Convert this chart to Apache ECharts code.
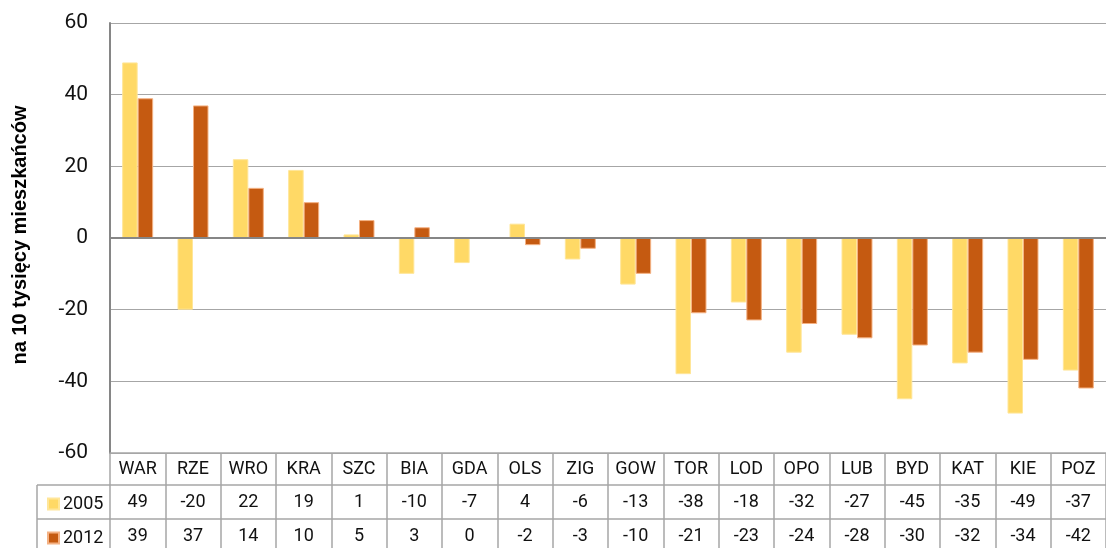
<!DOCTYPE html>
<html>
<head>
<meta charset="utf-8">
<script src="https://cdn.jsdelivr.net/npm/echarts@6/dist/echarts.min.js"></script>
<style>
  html, body { margin: 0; padding: 0; background: #fff; }
  #chart { width: 1106px; height: 548px; }
</style>
</head>
<body>
<div id="chart"></div>
<script>
// dane: saldo migracji na 10 tys. mieszkańców
const cities = ['WAR', 'RZE', 'WRO', 'KRA', 'SZC', 'BIA', 'GDA', 'OLS', 'ZIG', 'GOW',
                'TOR', 'LOD', 'OPO', 'LUB', 'BYD', 'KAT', 'KIE', 'POZ'];
const years = ['2005', '2012'];
const values2005 = [49, -20, 22, 19, 1, -10, -7, 4, -6, -13, -38, -18, -32, -27, -45, -35, -49, -37];
const values2012 = [39, 37, 14, 10, 5, 3, 0, -2, -3, -10, -21, -23, -24, -28, -30, -32, -34, -42];
const yMin = -60, yMax = 60, yStep = 20;

const gridColor = '#A6A6A6';
const font = 'Roboto, "Liberation Sans", sans-serif';

// jeden wiersz tabeli pod wykresem = osobna oś kategorii przesunięta w dół
const tableAxis = (offset, rowHeight, formatter, margin) => ({
    type: 'category',
    data: cities,
    position: 'bottom',
    offset: offset,
    axisLine: { show: true, onZero: false, lineStyle: { color: gridColor, width: 1.5 } },
    axisTick: { show: true, interval: 0, length: rowHeight, lineStyle: { color: gridColor, width: 1.5 } },
    axisLabel: {
        interval: 0, margin: margin, fontSize: 18, color: '#111', fontFamily: font,
        formatter: formatter
    },
    splitLine: { show: false }
});

// legenda w lewej kolumnie tabeli, jeden komponent na wiersz
const legendRow = (name, top) => ({
    data: [name],
    left: 42,
    top: top,
    itemWidth: 11,
    itemHeight: 11,
    itemGap: 0,
    icon: 'rect',
    textStyle: { fontSize: 18, color: '#111', fontFamily: font, padding: [0, 0, 0, -1] },
    selectedMode: false
});

const chart = echarts.init(document.getElementById('chart'), null, { renderer: 'canvas' });

const option = {
    animation: false,
    textStyle: { fontFamily: font },
    grid: { left: 110, top: 23, bottom: 95, right: -10, containLabel: false },
    legend: [legendRow(years[0], 490), legendRow(years[1], 524)],
    xAxis: [
        tableAxis(0, 32, (v) => v, 7),
        tableAxis(32, 34, (v, i) => String(values2005[i]), 8),
        tableAxis(66, 34, (v, i) => String(values2012[i]), 8)
    ],
    yAxis: {
        type: 'value',
        min: yMin,
        max: yMax,
        interval: yStep,
        name: 'na 10 tysięcy mieszkańców',
        nameLocation: 'middle',
        nameRotate: 90,
        nameGap: 80,
        nameTextStyle: {
            fontSize: 20, fontWeight: 'bold', color: '#000',
            fontFamily: '"Liberation Sans", Arial, sans-serif', padding: [0, 0, 0, 6]
        },
        axisLine: { show: true, lineStyle: { color: '#868686', width: 2 } },
        axisTick: { show: false },
        axisLabel: { fontSize: 21, color: '#111', margin: 22, fontFamily: font },
        splitLine: { show: true, lineStyle: { color: gridColor, width: 1.2 } }
    },
    series: [
        {
            name: years[0],
            type: 'bar',
            data: values2005,
            barGap: '0%',
            barCategoryGap: '44%',
            itemStyle: { color: '#FFD966', borderColor: '#FFE699', borderWidth: 1 },
            markLine: {
                silent: true,
                symbol: 'none',
                label: { show: false },
                lineStyle: { color: '#868686', width: 2.2, type: 'solid' },
                data: [{ yAxis: 0 }]
            }
        },
        {
            name: years[1],
            type: 'bar',
            data: values2012,
            itemStyle: { color: '#C55A11', borderColor: '#F4B183', borderWidth: 1 }
        }
    ],
    // obramowanie komórek legendy po lewej stronie tabeli
    graphic: [
        { type: 'line', shape: { x1: 37, y1: 485, x2: 110, y2: 485 }, style: { stroke: gridColor, lineWidth: 1.5 } },
        { type: 'line', shape: { x1: 37, y1: 519, x2: 110, y2: 519 }, style: { stroke: gridColor, lineWidth: 1.5 } },
        { type: 'line', shape: { x1: 37, y1: 485, x2: 37, y2: 548 }, style: { stroke: gridColor, lineWidth: 1.5 } }
    ]
};

chart.setOption(option);
window.addEventListener('resize', chart.resize);
</script>
</body>
</html>
